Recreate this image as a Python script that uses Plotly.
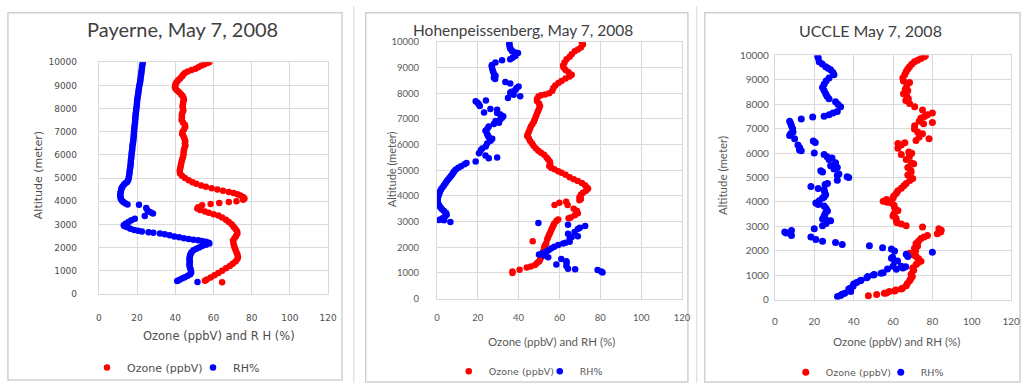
import plotly.graph_objects as go

# ---------------- data (value, altitude m) ----------------
PAY_OZONE = [
    (57.8, 10000), (56.5, 9950), (55, 9900), (53.5, 9850), (52, 9780), (50.5, 9720), (48.5, 9660),
    (46.5, 9600), (45, 9530), (44, 9450), (43.5, 9380), (42.5, 9300), (41.5, 9220), (40.8, 9150),
    (40.3, 9080), (40, 9000), (39.8, 8920), (40.2, 8850), (41, 8780), (42, 8700), (43, 8620),
    (43.8, 8540), (44.3, 8460), (44.5, 8380), (44.2, 8300), (44, 8200), (43.8, 8100), (44, 8000),
    (44.2, 7900), (43.6, 7800), (43.4, 7700), (43.5, 7600), (43.3, 7500), (44, 7400), (45, 7300),
    (45.2, 7200), (44.5, 7100), (43.8, 7000), (43.6, 6900), (44.3, 6800), (44.8, 6700), (45.2, 6600),
    (45, 6500), (45.3, 6400), (44.8, 6300), (44.5, 6200), (44.3, 6100), (44.3, 6000), (44, 5900),
    (43.6, 5800), (43.3, 5700), (43, 5600), (42.8, 5500), (42.5, 5400), (42.3, 5300), (42.5, 5200),
    (43.5, 5100), (45, 5000), (47, 4900), (49, 4820), (51, 4750), (53.5, 4680), (56, 4620),
    (59, 4560), (62, 4500), (65, 4450), (68, 4400), (70.5, 4350), (72.5, 4300), (74, 4250),
    (75.5, 4180), (76.2, 4120), (75.5, 4060), (72, 4000), (68, 3960), (63, 3920), (58.5, 3880),
    (54, 3820), (52, 3740), (51.5, 3680), (53, 3620), (55.5, 3560), (57.5, 3500), (60, 3440),
    (62.5, 3380), (64.5, 3300), (66.5, 3200), (68, 3100), (69.5, 3000), (70.5, 2900), (71.5, 2800),
    (72.3, 2700), (72.5, 2600), (71.8, 2500), (71, 2400), (70.2, 2300), (70.4, 2200), (70.7, 2100),
    (71, 2000), (71.5, 1900), (72, 1800), (72.5, 1700), (72.8, 1600), (72.5, 1500), (71.5, 1400),
    (70, 1300), (68.5, 1200), (66.5, 1100), (64.5, 1000), (62.5, 900), (60.5, 800), (58.5, 700),
    (56.5, 620), (55.5, 560), (64.5, 500),
]
PAY_RH = [
    (23, 10000), (22.8, 9900), (22.6, 9800), (22.5, 9700), (22.3, 9600), (22.2, 9500), (22, 9400),
    (21.8, 9300), (21.7, 9200), (21.5, 9100), (21.2, 9000), (21, 8900), (20.8, 8800), (20.7, 8700),
    (20.5, 8600), (20.3, 8500), (20.1, 8400), (20, 8300), (19.9, 8200), (19.8, 8100), (19.6, 8000),
    (19.5, 7900), (19.3, 7800), (19.2, 7700), (19.1, 7600), (19, 7500), (18.9, 7400), (18.8, 7300),
    (18.6, 7200), (18.5, 7100), (18.4, 7000), (18.3, 6900), (18.2, 6800), (18.1, 6700), (18, 6600),
    (17.8, 6500), (17.6, 6400), (17.5, 6300), (17.4, 6200), (17.2, 6100), (17.1, 6000), (17, 5900),
    (16.8, 5800), (16.7, 5700), (16.6, 5600), (16.5, 5500), (16.3, 5400), (16.1, 5300), (16, 5200),
    (15.8, 5100), (15.6, 5000), (15.3, 4900), (14.8, 4830), (14, 4780), (13.2, 4720), (12.5, 4650),
    (12, 4580), (11.7, 4500), (11.5, 4420), (11.3, 4340), (11.2, 4260), (11.3, 4180), (11.5, 4100),
    (12, 4030), (12.8, 3970), (13.8, 3910), (15, 3860),
    (21, 3849), (24.8, 3711), (25.5, 3600), (27, 3520), (28.3, 3473), (24, 3360),
    (18.8, 3240), (17, 3180), (15.5, 3100), (14, 3030), (13, 2960), (13.5, 2920), (15, 2870),
    (16.5, 2810), (18.5, 2760), (20.5, 2720), (22.5, 2690), (26, 2660), (28.5, 2640), (32, 2600),
    (34.5, 2570), (37, 2530), (39.5, 2480), (42, 2440), (44.5, 2400), (47, 2370), (49.5, 2340),
    (52, 2310), (54, 2280), (56, 2250), (57.5, 2210), (57.8, 2170), (56, 2120), (54, 2060),
    (52.5, 2000), (51, 1950), (49.5, 1880), (48.5, 1800), (48, 1720), (47.7, 1640), (47.5, 1560),
    (47.4, 1480), (47.6, 1400), (47.5, 1320), (47.4, 1240), (47.6, 1160), (47.9, 1080), (48.2, 1000),
    (48.3, 920), (47.8, 850), (46.5, 780), (45, 720), (43.5, 660), (42, 600), (41, 550), (51.6, 510),
]
HOH_OZONE = [
    (71, 9980), (71.5, 9900), (70.5, 9780), (69, 9700), (67.5, 9630), (66, 9520), (65, 9420),
    (63.5, 9320), (62.5, 9200), (61.8, 9080), (62, 9000), (63, 8900), (64.5, 8820), (66, 8720),
    (65, 8650), (63, 8570), (61, 8480), (59.5, 8400), (58, 8300), (57, 8200), (56.5, 8100),
    (55, 8000), (53, 7950), (51, 7920), (49.7, 7870), (49, 7780), (49, 7700), (50, 7600),
    (50.5, 7500), (50, 7400), (49.5, 7300), (49, 7200), (48.5, 7100), (48, 7000), (47.5, 6900),
    (46.8, 6800), (46, 6700), (45.5, 6600), (45, 6500), (44.5, 6400), (44.2, 6330), (45, 6250),
    (45.6, 6150), (46.5, 6050), (47.3, 5950), (48.5, 5850), (49.7, 5760), (51, 5680), (52.5, 5600),
    (53.7, 5500), (54.5, 5420), (55.3, 5330), (55.5, 5250), (55, 5170), (56, 5100), (57.5, 5040),
    (59.4, 4960), (61, 4900), (63, 4830), (65, 4730), (67, 4650), (69, 4580), (71, 4500),
    (72.5, 4420), (73.5, 4330), (74, 4280), (73, 4200), (71.5, 4120), (70.5, 4050), (69.8, 3950),
    (70.5, 3880), (69.8, 3830), (64, 3650), (63.3, 3774), (60, 3736), (57.6, 3648),
    (67, 3500), (68.5, 3420), (69, 3330), (67.5, 3250), (65.5, 3160), (64.5, 3130), (59.4, 3080),
    (58.5, 3020), (57.5, 2930), (57, 2850), (56.5, 2760), (56, 2670), (55.5, 2580), (55, 2500),
    (54.5, 2400), (54, 2310), (46.9, 2240), (53.5, 2160), (53, 2080), (52.5, 2000), (52.5, 1920),
    (52, 1840), (52, 1760), (51.5, 1680), (51, 1600), (50.5, 1520), (50, 1450), (49, 1390),
    (48, 1310), (46, 1250), (44, 1210), (40.5, 1130), (37, 1060), (37, 1000),
]
HOH_RH = [
    (35.5, 9950), (35.5, 9880), (35.7, 9800), (35.9, 9740), (36.5, 9680), (36.8, 9635), (38, 9600),
    (39.7, 9570), (38.4, 9450), (37, 9380), (35.9, 9320), (31.9, 9280), (28.7, 9200), (27, 9100),
    (26.8, 9060), (27.1, 8950), (27.5, 8850), (27.9, 8760), (28.7, 8680), (27.9, 8600), (28.5, 8550),
    (33.5, 8440), (35.9, 8380), (40, 8260), (39, 8200), (38.4, 8130), (36.5, 8060), (35.9, 8020),
    (37.6, 7940), (40.8, 7880), (34.8, 7810), (19, 7690), (20, 7620), (20.6, 7560), (21, 7500),
    (24, 7720), (26.2, 7384), (29.5, 7358), (29.5, 7233), (23.1, 7245), (31.1, 7170), (32.5, 7100),
    (31.9, 7044), (31, 6980), (28.7, 6918), (30.4, 6855), (27.9, 6800), (25.4, 6704), (24.7, 6620),
    (23.8, 6541), (24.6, 6415), (25, 6350), (25.4, 6289), (27.1, 6226), (26.3, 6150), (24.6, 6038),
    (23.9, 5925), (22.2, 5849), (21.5, 5780), (20.6, 5660), (23.8, 5572), (25.4, 5472), (29.5, 5497),
    (19, 5346), (14.5, 5283), (13.5, 5230), (11.8, 5157), (10.5, 5100), (9.3, 5031),
    (8.5, 4960), (8, 4900), (7.5, 4840), (6.9, 4780), (6.2, 4710), (5.5, 4640), (4.8, 4570),
    (4.2, 4490), (3.5, 4420), (2.8, 4340), (2.1, 4260), (1.6, 4180), (1.2, 4100), (0.8, 4020),
    (0.5, 3940), (0.4, 3860), (0.4, 3780), (0.7, 3700), (1.2, 3620), (1.8, 3550), (2.5, 3480),
    (3.5, 3410), (4.5, 3340), (4.8, 3270), (4, 3200), (3, 3140), (2, 3090), (1, 3060), (3.5, 3050),
    (6.6, 2990),
    (49.7, 2943), (64.2, 2880), (72.6, 2830), (70, 2760), (69, 2717), (67.4, 2592), (64.2, 2528),
    (69, 2428), (66, 2400), (65, 2340), (65, 2215), (63, 2180), (61.8, 2150), (59.4, 2087),
    (57.5, 2020), (56.1, 1962), (54.8, 1900), (53.7, 1837), (52.5, 1790), (51.3, 1748), (50, 1720),
    (52.5, 1680), (54.5, 1610), (60.9, 1547), (63.4, 1460), (63.5, 1400), (58.5, 1333), (63.4, 1271),
    (64.2, 1170), (67.7, 1145), (78.7, 1120), (80.5, 1060), (81.1, 1019),
]
UCC_OZONE = [
    (76.5, 10000), (75.9, 9950), (74.2, 9870), (72.5, 9800), (70.9, 9740), (69.5, 9640), (68.4, 9540),
    (67.5, 9440), (66.7, 9340), (66, 9220), (65, 9080), (65.3, 8950), (68.4, 8890), (67, 8760),
    (66.2, 8620), (67.5, 8550), (65.3, 8430), (67, 8330), (67.8, 8230), (66.5, 8150), (68.4, 8030),
    (71, 7900), (75, 7770), (80, 7640), (77.5, 7570), (76, 7500), (74.2, 7440), (73.3, 7310),
    (80, 7250), (75.5, 7200), (71, 7120), (70.9, 6990), (72.5, 6860), (75, 6790), (73.3, 6660),
    (78.3, 6590), (71.7, 6520), (66, 6420), (62.5, 6390), (64.2, 6330), (62.5, 6200), (68, 6050),
    (69.5, 5990), (64.2, 5940), (68.4, 5870), (66.7, 5740), (69.2, 5610), (70.5, 5560), (67.5, 5410),
    (69, 5300), (69.2, 5230), (67.5, 5100), (70, 4960), (68.5, 4880), (66.7, 4760), (65.5, 4660),
    (64.2, 4560), (62.5, 4460), (61.7, 4360), (60.5, 4250), (60, 4160), (56.7, 4100), (55, 4030),
    (57, 3990), (59.2, 3960), (60.5, 3870), (60.8, 3760), (62.5, 3650), (61.7, 3630), (60.5, 3520),
    (60, 3430), (61.5, 3330), (61.7, 3230), (62, 3150), (64.2, 3100), (66.7, 3030), (75, 2970),
    (83.3, 2900), (84.5, 2840), (84.2, 2770), (82.5, 2700), (77.5, 2630), (75.8, 2570), (74.2, 2500),
    (73, 2400), (71.7, 2300), (72.5, 2200), (70.9, 2100), (71.5, 2000), (68.4, 1900), (70.5, 1830),
    (71.7, 1770), (73, 1670), (74.2, 1570), (72.5, 1500), (71.7, 1440), (70, 1300), (70.5, 1200),
    (69.2, 1040), (69.8, 950), (69, 860), (68.4, 770), (67.3, 660), (66.7, 570), (64.8, 462),
    (64.2, 440), (61.4, 396), (60.8, 350), (58.1, 330), (56.7, 270), (55.6, 264), (51.7, 210),
    (47.5, 160),
]
UCC_RH = [
    (21.7, 10000), (22, 9900), (22.5, 9740), (24, 9650), (25.8, 9540), (27, 9480), (28.3, 9410),
    (29.5, 9300), (30, 9210), (27.5, 9080), (26, 8950), (25, 8820), (24.2, 8690), (25, 8560),
    (25.8, 8430), (26.5, 8330), (27.5, 8230), (30.8, 8100), (32, 8000), (33.4, 7900), (31.7, 7700),
    (29.5, 7640), (27.5, 7570), (25, 7510), (19.2, 7480), (13.4, 7400), (7.5, 7310), (8, 7220),
    (8.4, 7120), (9, 7000), (9.2, 6860), (8, 6790), (7.5, 6720), (10, 6590), (19.5, 6500),
    (20.5, 6430), (11.7, 6330), (12.5, 6230), (12.5, 6130), (13.4, 6100), (20, 6000), (25, 5940),
    (26.5, 5850), (29, 5800), (27.5, 5740), (30.8, 5610), (28.3, 5480), (31.7, 5410), (30, 5350),
    (23.3, 5280), (24.2, 5230), (32.5, 5150), (31.7, 5090), (36.7, 5030), (37.5, 5000), (31.7, 4890),
    (26.7, 4760), (25.5, 4720), (18.3, 4630), (22, 4550), (25, 4500), (25.3, 4400), (25.8, 4300),
    (25, 4200), (24.2, 4160), (22.5, 4050), (20.8, 3960), (22, 3900), (25, 3830), (26, 3730),
    (26.7, 3630), (25.5, 3520), (25, 3430), (24.2, 3300), (26, 3270), (28.3, 3230), (26, 3120),
    (24.2, 3030), (20, 2900), (8.4, 2830), (5, 2770), (5.7, 2731), (8.4, 2630), (18.3, 2570),
    (20.8, 2460), (24.2, 2390), (30.8, 2340), (34.2, 2260), (48, 2210), (54.7, 2130), (59.2, 2070),
    (60.8, 1990), (80, 1940), (66.7, 1860), (67.5, 1770), (59.8, 1741), (59.2, 1700), (62.3, 1583),
    (60.8, 1570), (64.2, 1370), (66.4, 1345), (60, 1370), (65, 1300), (57.2, 1253), (61.7, 1240),
    (55, 1100), (53.9, 1082), (50.5, 1029), (50, 1010), (47.2, 950), (46.7, 900), (43.8, 792),
    (43.3, 770), (41.5, 700), (40, 640), (39.7, 554), (38.5, 480), (37.5, 440), (38.5, 330),
    (35.5, 260), (34.1, 224), (33.3, 170), (31.8, 132),
]

TITLES = ["Payerne, May 7, 2008", "Hohenpeissenberg, May 7, 2008", "UCCLE May 7, 2008"]
X_TITLES = ["Ozone (ppbV) and R H (%)", "Ozone (ppbV) and RH (%)", "Ozone (ppbV) and RH (%)"]
Y_TITLE = "Altitude (meter)"
SERIES_NAMES = ["Ozone (ppbV)", "RH%"]
X_TICKS = [0, 20, 40, 60, 80, 100, 120]
Y_TICKS = list(range(0, 10001, 1000))

# ---------------- layout helpers ----------------
W, H = 1030, 389
def px(x): return x / W
def py(y): return 1 - y / H

panels = [
    dict(data=(PAY_OZONE, PAY_RH), plot=(97, 329, 58, 297), box=(5, 343, 7, 386),
         font="DejaVu Sans", tick=9, tcol="#4D4D4D", title=(83, 24, 20),
         xt=(219, 341, 11.5), yt=(36, 175, 11), leg=(106, 373, 11, 61), ms=6.5,
         xlen=15, ylen=19),
    dict(data=(HOH_OZONE, HOH_RH), plot=(439, 687, 37, 302), box=(367, 693, 7, 388),
         font="Lato", tick=9.5, tcol="#595959", title=(413, 25, 15.5),
         xt=(555, 346, 11.5), yt=(393, 168, 11), leg=(472, 377, 9.5, 46), ms=6.5,
         xlen=10, ylen=15),
    dict(data=(UCC_OZONE, UCC_RH), plot=(781, 1020, 51, 303), box=(710, 1029, 7, 388),
         font="Lato", tick=10, tcol="#595959", title=(803, 25, 16),
         xt=(904, 346, 11.5), yt=(728, 175, 11.5), leg=(813, 378, 9.5, 50), ms=7,
         xlen=12, ylen=3),
]

COLORS = ["#FF0000", "#0000FF"]
GRID = "#D9D9D9"

fig = go.Figure()
shapes, annotations = [], []
for i, p in enumerate(panels):
    n = "" if i == 0 else str(i + 1)
    leg = "legend" + n
    for s, series in enumerate(p["data"]):
        fig.add_trace(go.Scatter(
            x=[v for v, a in series], y=[a for v, a in series],
            mode="markers", name=SERIES_NAMES[s],
            marker=dict(color=COLORS[s], size=p["ms"], line=dict(width=0)),
            xaxis="x" + n, yaxis="y" + n, legend=leg, showlegend=True,
        ))
    x0, x1, y0, y1 = p["plot"]
    fig.layout["xaxis" + n] = dict(
        domain=[px(x0), px(x1)], range=[0, 120], tickvals=X_TICKS, showgrid=True,
        gridcolor=GRID, gridwidth=1, zeroline=False, showline=True, linecolor=GRID,
        mirror=True, anchor="y" + n,
        tickfont=dict(family=p["font"], size=p["tick"], color=p["tcol"]),
        ticks="outside", ticklen=p["xlen"], tickcolor="rgba(0,0,0,0)", fixedrange=True,
    )
    fig.layout["yaxis" + n] = dict(
        domain=[py(y1), py(y0)], range=[0, 10000], tickvals=Y_TICKS, tickformat="d",
        showgrid=True, gridcolor=GRID, gridwidth=1, zeroline=False, showline=True,
        linecolor=GRID, mirror=True, anchor="x" + n,
        tickfont=dict(family=p["font"], size=p["tick"], color=p["tcol"]),
        ticks="outside", ticklen=p["ylen"], tickcolor="rgba(0,0,0,0)", fixedrange=True,
    )
    bx0, bx1, by0, by1 = p["box"]
    shapes.append(dict(type="rect", xref="paper", yref="paper", x0=px(bx0), x1=px(bx1),
                       y0=py(by1), y1=py(by0), line=dict(color="#D0D0D0", width=1.5),
                       fillcolor="rgba(0,0,0,0)", layer="below"))
    tx, ty, ts = p["title"]
    annotations.append(dict(text=TITLES[i], x=px(tx), y=py(ty), xref="paper", yref="paper",
                            showarrow=False, xanchor="left", yanchor="middle",
                            font=dict(family="Lato", size=ts, color="#404040")))
    ax, ay, asz = p["xt"]
    annotations.append(dict(text=X_TITLES[i], x=px(ax), y=py(ay), xref="paper", yref="paper",
                            showarrow=False, xanchor="center", yanchor="middle",
                            font=dict(family=p["font"], size=asz, color=p["tcol"])))
    yx, yy, ysz = p["yt"]
    annotations.append(dict(text=Y_TITLE, x=px(yx), y=py(yy), xref="paper", yref="paper",
                            showarrow=False, xanchor="center", yanchor="middle", textangle=-90,
                            font=dict(family=p["font"], size=ysz, color=p["tcol"])))
    lx, ly, lsz, ew = p["leg"]
    fig.layout[leg] = dict(orientation="h", x=px(lx - 21), y=py(ly), xanchor="left",
                           yanchor="middle", bgcolor="rgba(0,0,0,0)", itemwidth=30,
                           entrywidth=ew, entrywidthmode="pixels",
                           font=dict(family="DejaVu Sans", size=lsz, color=p["tcol"]),
                           tracegroupgap=0, itemclick=False)

# thin separator lines between the panels
for sx in (355, 702):
    shapes.append(dict(type="line", xref="paper", yref="paper", x0=px(sx), x1=px(sx),
                       y0=0, y1=1, line=dict(color="#D8D8D8", width=1), layer="below"))

fig.update_layout(
    width=W, height=H, margin=dict(l=0, r=0, t=0, b=0),
    paper_bgcolor="white", plot_bgcolor="white",
    shapes=shapes, annotations=annotations,
)
fig.write_html("out.html", config={"displayModeBar": False},
               post_script="document.body.style.margin='0';document.body.style.overflow='hidden';")
